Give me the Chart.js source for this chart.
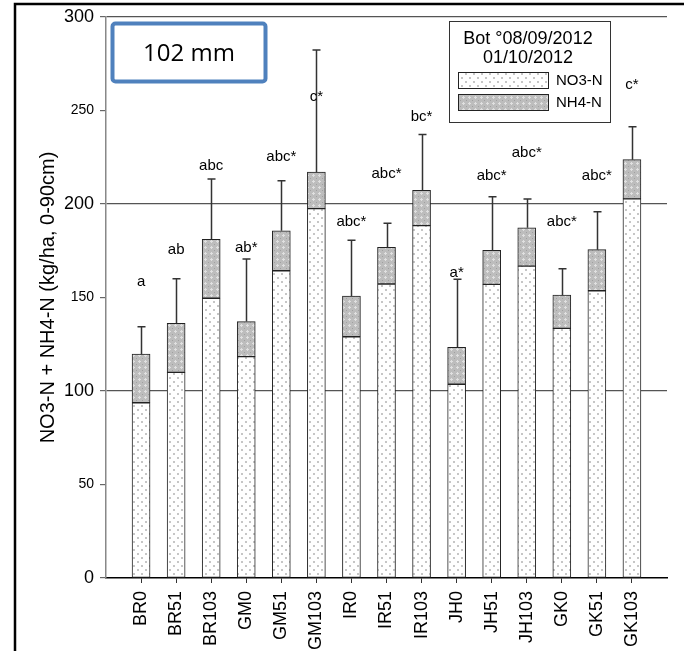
<!DOCTYPE html>
<html>
<head>
<meta charset="utf-8">
<script src="https://cdn.jsdelivr.net/npm/chart.js@4"></script>
<style>
  html, body { margin: 0; padding: 0; background: #fff; }
  #wrap { width: 684px; height: 651px; }
</style>
</head>
<body>
<div id="wrap"><canvas id="chart" width="684" height="651"></canvas></div>
<script>
const categories = ['BR0', 'BR51', 'BR103', 'GM0', 'GM51', 'GM103', 'IR0', 'IR51', 'IR103', 'JH0', 'JH51', 'JH103', 'GK0', 'GK51', 'GK103'];
const no3Values = [93.7, 110, 149.6, 118.4, 164.3, 197.5, 129, 157.2, 188.4, 103.6, 157, 166.8, 133.5, 153.6, 202.7];
const nh4Values = [26, 26.2, 31.5, 18.7, 21.4, 19.6, 21.8, 19.6, 18.9, 19.8, 18.2, 20.5, 17.8, 22, 21];
const errorValues = [14.7, 23.8, 32.3, 33.5, 26.8, 65.3, 29.8, 12.9, 29.8, 36.3, 28.7, 15.4, 14.1, 20.3, 17.6];
const letters = ['a', 'ab', 'abc', 'ab*', 'abc*', 'c*', 'abc*', 'abc*', 'bc*', 'a*', 'abc*', 'abc*', 'abc*', 'abc*', 'c*'];
const letterHeights = [158.4, 175.4, 220.5, 176.5, 225, 257.2, 190.2, 216, 246.4, 163.3, 215, 227.1, 190.5, 215, 263.6];
const seriesNames = ['NO3-N', 'NH4-N'];
const legendTitle = ['Bot °08/09/2012', '01/10/2012'];
const boxLabel = '102 mm';
const yTitle = 'NO3-N + NH4-N (kg/ha, 0-90cm)';

const FONT = "'Liberation Sans', Arial, sans-serif";
Chart.defaults.font.family = FONT;
Chart.defaults.color = '#000';

function makePattern(bg, draw, size) {
  const c = document.createElement('canvas');
  c.width = size;
  c.height = size;
  const g = c.getContext('2d');
  g.fillStyle = bg;
  g.fillRect(0, 0, size, size);
  draw(g);
  return g.createPattern(c, 'repeat');
}

const ctx = document.getElementById('chart').getContext('2d');

// light dotted fill for NO3, grey cross-hatch for NH4
const no3Fill = makePattern('#ffffff', g => {
  g.fillStyle = '#c6c6c6';
  g.fillRect(1, 1, 2, 2);
  g.fillRect(5, 5, 2, 2);
}, 8);
const nh4Fill = makePattern('#bdbdbd', g => {
  g.fillStyle = '#e0e0e0';
  g.fillRect(1, 0, 1, 3);
  g.fillRect(0, 1, 3, 1);
  g.fillStyle = '#a0a0a0';
  g.fillRect(4, 4, 1, 1);
}, 6);

const points = arr => arr.map((v, i) => ({ x: i + 1, y: v }));

const extras = {
  id: 'extras',
  afterDatasetsDraw(chart) {
    const { ctx: c, scales: { x, y } } = chart;
    c.save();
    // error bars (upper only)
    c.strokeStyle = '#333';
    c.lineWidth = 1.5;
    categories.forEach((cat, i) => {
      const total = no3Values[i] + nh4Values[i];
      const px = Math.round(x.getPixelForValue(i + 1)) + 0.5;
      const y0 = y.getPixelForValue(total);
      const y1 = y.getPixelForValue(total + errorValues[i]);
      c.beginPath();
      c.moveTo(px, y0);
      c.lineTo(px, y1);
      c.moveTo(px - 4, y1);
      c.lineTo(px + 4, y1);
      c.stroke();
    });
    // significance letters
    c.fillStyle = '#000';
    c.font = '15px ' + FONT;
    c.textAlign = 'center';
    c.textBaseline = 'middle';
    letters.forEach((t, i) => {
      c.fillText(t, x.getPixelForValue(i + 1), y.getPixelForValue(letterHeights[i]));
    });
    c.restore();
  },
  afterDraw(chart) {
    const c = chart.ctx;
    c.save();
    // frame lines of the surrounding table
    c.strokeStyle = '#000';
    c.lineWidth = 2.5;
    c.beginPath();
    c.moveTo(15, 651);
    c.lineTo(15, 4);
    c.lineTo(684, 4);
    c.stroke();

    // "102 mm" box
    c.strokeStyle = '#4f81bd';
    c.lineWidth = 4;
    c.fillStyle = '#fff';
    c.beginPath();
    c.roundRect(112.5, 23.5, 153, 58, 3);
    c.fill();
    c.stroke();
    c.fillStyle = '#000';
    c.font = "24px 'Open Sans', sans-serif";
    c.textAlign = 'center';
    c.textBaseline = 'middle';
    c.fillText(boxLabel, 189, 54);

    // legend box
    c.fillStyle = '#fff';
    c.fillRect(449, 21, 162, 102);
    c.strokeStyle = '#333';
    c.lineWidth = 1;
    c.strokeRect(449.5, 21.5, 161, 101);
    c.fillStyle = '#000';
    c.font = '18px ' + FONT;
    c.fillText(legendTitle[0], 528, 39);
    c.fillText(legendTitle[1], 528, 58);
    const fills = [no3Fill, nh4Fill];
    [72, 94].forEach((top, k) => {
      c.fillStyle = fills[k];
      c.fillRect(458, top, 91, 17);
      c.strokeStyle = '#222';
      c.strokeRect(458.5, top + 0.5, 90, 16);
      c.fillStyle = '#000';
      c.font = '15px ' + FONT;
      c.textAlign = 'left';
      c.fillText(seriesNames[k], 556, top + 9);
      c.textAlign = 'center';
    });
    c.restore();
  }
};

new Chart(ctx, {
  type: 'bar',
  data: {
    datasets: [
      {
        label: seriesNames[0],
        data: points(no3Values),
        backgroundColor: no3Fill,
        borderColor: '#222',
        borderWidth: 1,
        borderSkipped: false,
        barThickness: 18,
      },
      {
        label: seriesNames[1],
        data: points(nh4Values),
        backgroundColor: nh4Fill,
        borderColor: '#222',
        borderWidth: 1,
        borderSkipped: false,
        barThickness: 18,
      },
    ],
  },
  options: {
    responsive: false,
    animation: false,
    layout: { padding: { top: 17, right: 17, left: 0, bottom: 0 } },
    plugins: {
      legend: { display: false },
      tooltip: { enabled: false },
    },
    scales: {
      x: {
        type: 'linear',
        stacked: true,
        offset: false,
        min: 0,
        max: 16,
        afterBuildTicks: scale => {
          scale.ticks = categories.map((c, i) => ({ value: i + 1 }));
        },
        afterFit: scale => { scale.height = 73; },
        ticks: {
          autoSkip: false,
          minRotation: 90,
          maxRotation: 90,
          padding: 8,
          font: { size: 18 },
          callback: v => categories[v - 1] || '',
        },
        grid: { offset: false, drawOnChartArea: false, drawTicks: true, tickLength: 5, tickColor: '#333' },
        border: { color: '#000', width: 1.5 },
      },
      y: {
        stacked: true,
        min: 0,
        max: 300,
        afterFit: scale => { scale.width = 106; },
        ticks: {
          stepSize: 50,
          padding: 6,
          font: c => ({ size: c.tick && c.tick.value % 100 === 0 ? 18 : 14 }),
        },
        grid: {
          color: c => (c.tick && c.tick.value > 0 && c.tick.value % 100 === 0 ? '#555' : 'rgba(0,0,0,0)'),
          lineWidth: 1.2,
          tickLength: 6,
          tickColor: '#666',
        },
        border: { color: '#888', width: 1.5 },
        title: {
          display: true,
          text: yTitle,
          font: { size: 20 },
          padding: { top: 36, bottom: 0 },
        },
      },
    },
  },
  plugins: [extras],
});
</script>
</body>
</html>
